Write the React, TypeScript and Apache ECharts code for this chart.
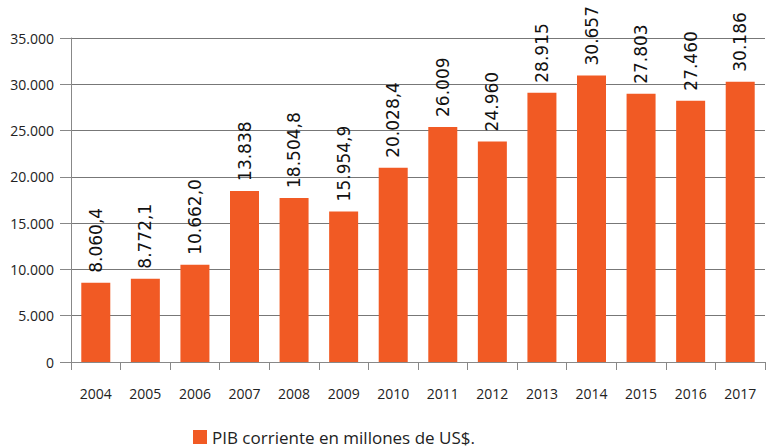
import React, { useEffect, useRef } from "react";
import * as echarts from "echarts";

const years = ["2004", "2005", "2006", "2007", "2008", "2009", "2010", "2011", "2012", "2013", "2014", "2015", "2016", "2017"];
const gdpValues = [8560, 9000, 10500, 18480, 17720, 16270, 20980, 25390, 23830, 29090, 30950, 28970, 28230, 30280];
const barLabels = ["8.060,4", "8.772,1", "10.662,0", "13.838", "18.504,8", "15.954,9", "20.028,4", "26.009", "24.960", "28.915", "30.657", "27.803", "27.460", "30.186"];
const yTicks = { min: 0, max: 35000, interval: 5000 };
const seriesName = "PIB corriente en millones de US$.";

function fmtThousands(v: number): string {
  return String(Math.round(v)).replace(/\B(?=(\d{3})+(?!\d))/g, ".");
}

export default function App() {
  const ref = useRef<HTMLDivElement>(null);
  useEffect(() => {
    if (!ref.current) return;
    const chart = echarts.init(ref.current, null, { renderer: "svg" });
    chart.setOption({
      animation: false,
      backgroundColor: "#ffffff",
      grid: { left: 71, right: 2, top: 38, bottom: 86 },
      legend: {
        show: true,
        left: 193,
        top: 428,
        padding: 0,
        icon: "rect",
        itemWidth: 14,
        itemHeight: 14,
        textStyle: { fontFamily: "Open Sans", fontSize: 17, color: "#222", lineHeight: 18 },
        data: [seriesName],
      },
      xAxis: {
        type: "category",
        data: years,
        boundaryGap: true,
        axisLine: { show: true, lineStyle: { color: "#888", width: 1 } },
        axisTick: { show: true, length: 8, lineStyle: { color: "#888" } },
        axisLabel: { fontFamily: "Open Sans", fontSize: 14, color: "#222", margin: 24 },
      },
      yAxis: {
        type: "value",
        min: yTicks.min,
        max: yTicks.max,
        interval: yTicks.interval,
        axisLine: { show: true, lineStyle: { color: "#888", width: 1 } },
        axisTick: { show: true, length: 11, lineStyle: { color: "#888" } },
        splitLine: { show: true, lineStyle: { color: "#777", width: 1 } },
        axisLabel: {
          fontFamily: "Open Sans",
          fontSize: 14,
          color: "#222",
          margin: 17,
          formatter: (v: number) => fmtThousands(v),
        },
      },
      series: [
        {
          name: seriesName,
          type: "bar",
          data: gdpValues,
          barWidth: 29,
          itemStyle: { color: "#F15A24" },
          label: {
            show: true,
            position: "top",
            rotate: 90,
            align: "left",
            verticalAlign: "middle",
            distance: 10,
            fontFamily: "DejaVu Sans",
            fontSize: 17,
            color: "#111",
            formatter: (p: any) => barLabels[p.dataIndex],
          },
        },
      ],
    });
    return () => chart.dispose();
  }, []);
  return <div ref={ref} style={{ position: "fixed", left: 0, top: 0, width: 767, height: 448 }} />;
}
